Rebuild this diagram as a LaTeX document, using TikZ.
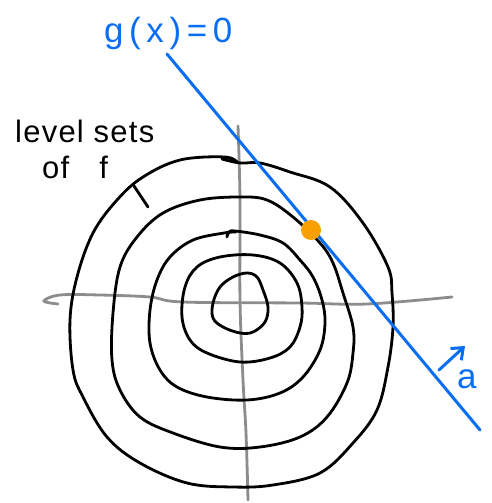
\documentclass[tikz,border=0pt]{standalone}
\usepackage{fontspec}
\setmainfont{Liberation Sans}
\newfontfamily\handfont[LetterSpace=4]{Liberation Sans}
\newfontfamily\wideHandfont[LetterSpace=16]{Liberation Sans}
\usetikzlibrary{arrows.meta}
\definecolor{penblue}{RGB}{10,110,245}
\definecolor{penorange}{RGB}{247,160,0}
\definecolor{axisgray}{RGB}{140,140,140}
\tikzset{
  contour/.style={draw=black, line width=2.8pt, line cap=round, line join=round},
  axisline/.style={draw=axisgray, line width=2.8pt, line cap=round},
  blueline/.style={draw=penblue, line width=3pt, line cap=round},
  handtext/.style={inner sep=0pt, font=\handfont\fontsize{31}{33}\selectfont},
  bigtext/.style={inner sep=0pt, font=\wideHandfont\fontsize{35}{37}\selectfont},
}
\begin{document}
\begin{tikzpicture}[x=1pt,y=-1pt]
\useasboundingbox (0,0) rectangle (491,503);
% axes
\draw[axisline] plot[smooth, tension=0.6] coordinates {(58,304) (44,301) (60,295) (100,295) (150,297) (183,302) (300,303) (367,304) (452,297)};
\draw[axisline] plot[smooth, tension=0.6] coordinates {(238,126) (240,200) (240,300) (243,380) (246,433) (248,500)};
% contours
\draw[contour] plot[smooth, tension=0.6] coordinates {(222,159) (240,163) (260,163) (290,172) (330,187) (363,223) (388,267) (392,293) (393,327) (388,367) (377,410) (353,443) (320,473) (273,485) (233,487) (187,483) (140,463) (107,437) (83,397) (73,370) (70,320) (77,277) (93,233) (117,200) (143,177) (180,160) (225,157) (238,163)};
\draw[contour] plot[smooth cycle, tension=0.6] coordinates {(240,197) (267,200) (293,217) (320,243) (333,263) (343,293) (353,327) (353,353) (347,383) (327,417) (300,437) (260,447) (220,447) (173,433) (140,417) (120,390) (112,360) (113,313) (120,267) (137,237) (163,213) (200,200)};
\draw[contour] plot[smooth, tension=0.6] coordinates {(227,237) (229,232) (235,231) (260,235) (283,243) (300,260) (313,277) (322,300) (325,323) (320,350) (303,377) (280,393) (247,400) (207,397) (177,387) (160,370) (150,343) (150,310) (157,280) (170,257) (193,240) (224,233) (236,232)};
\draw[contour] plot[smooth cycle, tension=0.6] coordinates {(253,255) (280,263) (297,283) (302,307) (300,327) (290,347) (270,358) (240,362) (207,353) (190,340) (182,317) (185,287) (197,267) (220,257)};
\draw[contour] plot[smooth cycle, tension=0.6] coordinates {(247,273) (257,277) (263,290) (268,307) (265,322) (253,332) (240,333) (223,327) (213,318) (213,303) (220,287) (233,277)};
% pointer tick
\coordinate (tickA) at (134,186);
\coordinate (tickB) at (148,207);
\draw[contour] (tickA) -- (tickB);
% constraint line
\coordinate (gA) at (167,54);
\coordinate (gB) at (480,430);
\draw[blueline] (gA) -- (gB);
% optimum point
\node[circle, fill=penorange, minimum size=20pt, inner sep=0pt] (opt) at (311,230) {};
% labels
\node[bigtext, text=penblue, anchor=base west] (glabel) at (104,43) {g(x)=0};
\node[handtext, anchor=base west] (lvl) at (15,142) {level sets};
\node[handtext, anchor=base west] (off) at (42,178) {of\hspace{30pt}f};
\coordinate (arA) at (439,370);
\coordinate (arB) at (465,346);
\draw[blueline, -{Straight Barb[length=10pt,width=16pt,line width=3pt]}] (arA) -- (arB);
\node[bigtext, text=penblue, anchor=base west] (avec) at (457,388) {a};
\end{tikzpicture}
\end{document}
